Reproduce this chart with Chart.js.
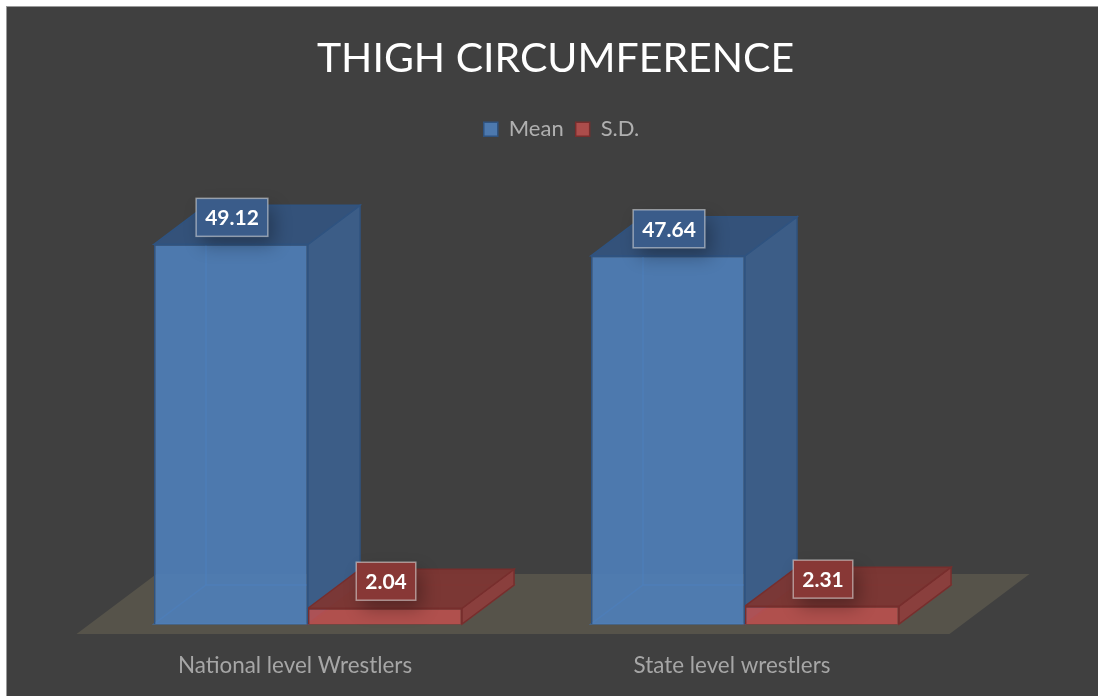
<!DOCTYPE html>
<html>
<head>
<meta charset="utf-8">
<title>Thigh circumference</title>
<script src="https://cdn.jsdelivr.net/npm/chart.js@4/dist/chart.umd.min.js"></script>
<style>
  html, body { margin: 0; padding: 0; background: #ffffff; overflow: hidden; }
  #wrap { position: absolute; left: 6px; top: 6px; width: 1091px; height: 689px; border-left: 1px solid #9a9a9a; border-top: 1px solid #9a9a9a; }
</style>
</head>
<body>
<div id="wrap"><canvas id="thighChart"></canvas></div>
<script>
var categories = ['National level Wrestlers', 'State level wrestlers'];
var meanValues = [49.12, 47.64];
var sdValues = [2.04, 2.31];
var seriesNames = ['Mean', 'S.D.'];

// fake 3D depth, px
var DEPTH_X = 52;
var DEPTH_Y = 39;

var looks = [
  { front: 'rgba(79, 129, 189, 0.88)', side: '#3c5d87', top: '#34527a', edge: '#2f5380', back: 'rgba(64, 110, 165, 0.8)', box: '#3a5c8a' },
  { front: 'rgba(192, 80, 77, 0.85)', side: '#8a3f3d', top: 'rgba(125, 54, 51, 0.95)', edge: '#772e2d', back: 'rgba(140, 60, 58, 0.6)', box: '#883836' }
];

function poly(ctx, pts, fill, stroke) {
  ctx.beginPath();
  ctx.moveTo(pts[0][0], pts[0][1]);
  for (var i = 1; i < pts.length; i++) ctx.lineTo(pts[i][0], pts[i][1]);
  ctx.closePath();
  if (fill) { ctx.fillStyle = fill; ctx.fill(); }
  if (stroke) { ctx.strokeStyle = stroke; ctx.lineWidth = 1.5; ctx.stroke(); }
}

function barBox(bar) {
  var w = bar.width / 2;
  return { l: bar.x - w, r: bar.x + w, t: bar.y, b: bar.base };
}

// title and legend sit off the plot centre in the original
var nudgeHeader = {
  id: 'nudgeHeader',
  afterLayout: function (chart) {
    chart.titleBlock.left += 29;
    chart.titleBlock.right += 29;
    chart.legend.left += 35;
    chart.legend.right += 35;
  }
};

var floorAndBoxes = {
  id: 'floorAndBoxes',
  beforeDatasetsDraw: function (chart) {
    var ctx = chart.ctx;
    var area = chart.chartArea;
    var y0 = chart.scales.y.getPixelForValue(0);
    ctx.save();
    // floor
    poly(ctx, [
      [area.left - 13, y0 + 10],
      [area.right - 14, y0 + 10],
      [area.right + 66, y0 - 50],
      [area.left + 67, y0 - 50]
    ], '#56534a');
    // back edges, side and top of each bar, the front comes from the library
    chart.data.datasets.forEach(function (ds, d) {
      chart.getDatasetMeta(d).data.forEach(function (bar) {
        var b = barBox(bar);
        poly(ctx, [
          [b.l, b.b],
          [b.l + DEPTH_X, b.b - DEPTH_Y],
          [b.r + DEPTH_X, b.b - DEPTH_Y],
          [b.r, b.b]
        ], null, looks[d].back);
        ctx.beginPath();
        ctx.moveTo(b.l + DEPTH_X, b.b - DEPTH_Y);
        ctx.lineTo(b.l + DEPTH_X, b.t - DEPTH_Y);
        ctx.stroke();
        poly(ctx, [
          [b.r, b.t], [b.r + DEPTH_X, b.t - DEPTH_Y],
          [b.r + DEPTH_X, b.b - DEPTH_Y], [b.r, b.b]
        ], looks[d].side, looks[d].edge);
        poly(ctx, [
          [b.l, b.t], [b.l + DEPTH_X, b.t - DEPTH_Y],
          [b.r + DEPTH_X, b.t - DEPTH_Y], [b.r, b.t]
        ], looks[d].top, looks[d].edge);
      });
    });
    ctx.restore();
  }
};

var valueLabels = {
  id: 'valueLabels',
  afterDatasetsDraw: function (chart) {
    var ctx = chart.ctx;
    ctx.save();
    chart.data.datasets.forEach(function (ds, d) {
      chart.getDatasetMeta(d).data.forEach(function (bar, i) {
        var text = ds.data[i].toFixed(2);
        ctx.font = 'bold 21px Lato';
        var w = ctx.measureText(text).width + 18;
        var h = 38;
        var x = bar.x + 1 - w / 2;
        var y = bar.y - 27 - h / 2;
        ctx.save();
        ctx.shadowColor = 'rgba(0, 0, 0, 0.3)';
        ctx.shadowBlur = 18;
        ctx.shadowOffsetX = 6;
        ctx.shadowOffsetY = 9;
        ctx.fillStyle = looks[d].box;
        ctx.fillRect(x, y, w, h);
        ctx.restore();
        ctx.strokeStyle = 'rgba(225, 225, 225, 0.55)';
        ctx.lineWidth = 1.5;
        ctx.strokeRect(x, y, w, h);
        ctx.fillStyle = '#ffffff';
        ctx.textAlign = 'center';
        ctx.textBaseline = 'middle';
        ctx.fillText(text, x + w / 2, y + h / 2 + 1);
      });
    });
    ctx.restore();
  }
};

var chartBg = {
  id: 'chartBg',
  beforeDraw: function (chart) {
    chart.ctx.save();
    chart.ctx.fillStyle = '#404040';
    chart.ctx.fillRect(0, 0, chart.width, chart.height);
    chart.ctx.restore();
  }
};

new Chart(document.getElementById('thighChart'), {
  type: 'bar',
  data: {
    labels: categories,
    datasets: [
      { label: seriesNames[0], data: meanValues, backgroundColor: looks[0].front, borderColor: looks[0].edge, borderWidth: 1.5 },
      { label: seriesNames[1], data: sdValues, backgroundColor: looks[1].front, borderColor: looks[1].edge, borderWidth: 1.5 }
    ]
  },
  plugins: [chartBg, nudgeHeader, floorAndBoxes, valueLabels],
  options: {
    responsive: true,
    maintainAspectRatio: false,
    animation: false,
    layout: { padding: { left: 82.5, right: 134.5, top: 0, bottom: 0 } },
    datasets: { bar: { categoryPercentage: 0.705, barPercentage: 1 } },
    scales: {
      x: {
        grid: { display: false },
        border: { display: false },
        ticks: { color: '#a6a6a6', font: { family: 'Lato', size: 22.4 }, padding: 20, labelOffset: -13, maxRotation: 0 },
        afterFit: function (scale) { scale.height = 72; }
      },
      y: { display: false, min: 0, max: 61.3 }
    },
    plugins: {
      title: {
        display: true,
        text: 'THIGH CIRCUMFERENCE',
        color: '#ffffff',
        font: { family: 'Lato', size: 41, weight: 'normal' },
        padding: { top: 27, bottom: 23 }
      },
      legend: {
        position: 'top',
        labels: {
          color: '#b0b0b0',
          font: { family: 'Lato', size: 22 },
          boxWidth: 14,
          boxHeight: 14,
          padding: 12
        }
      },
      tooltip: { enabled: false }
    }
  }
});
</script>
</body>
</html>
